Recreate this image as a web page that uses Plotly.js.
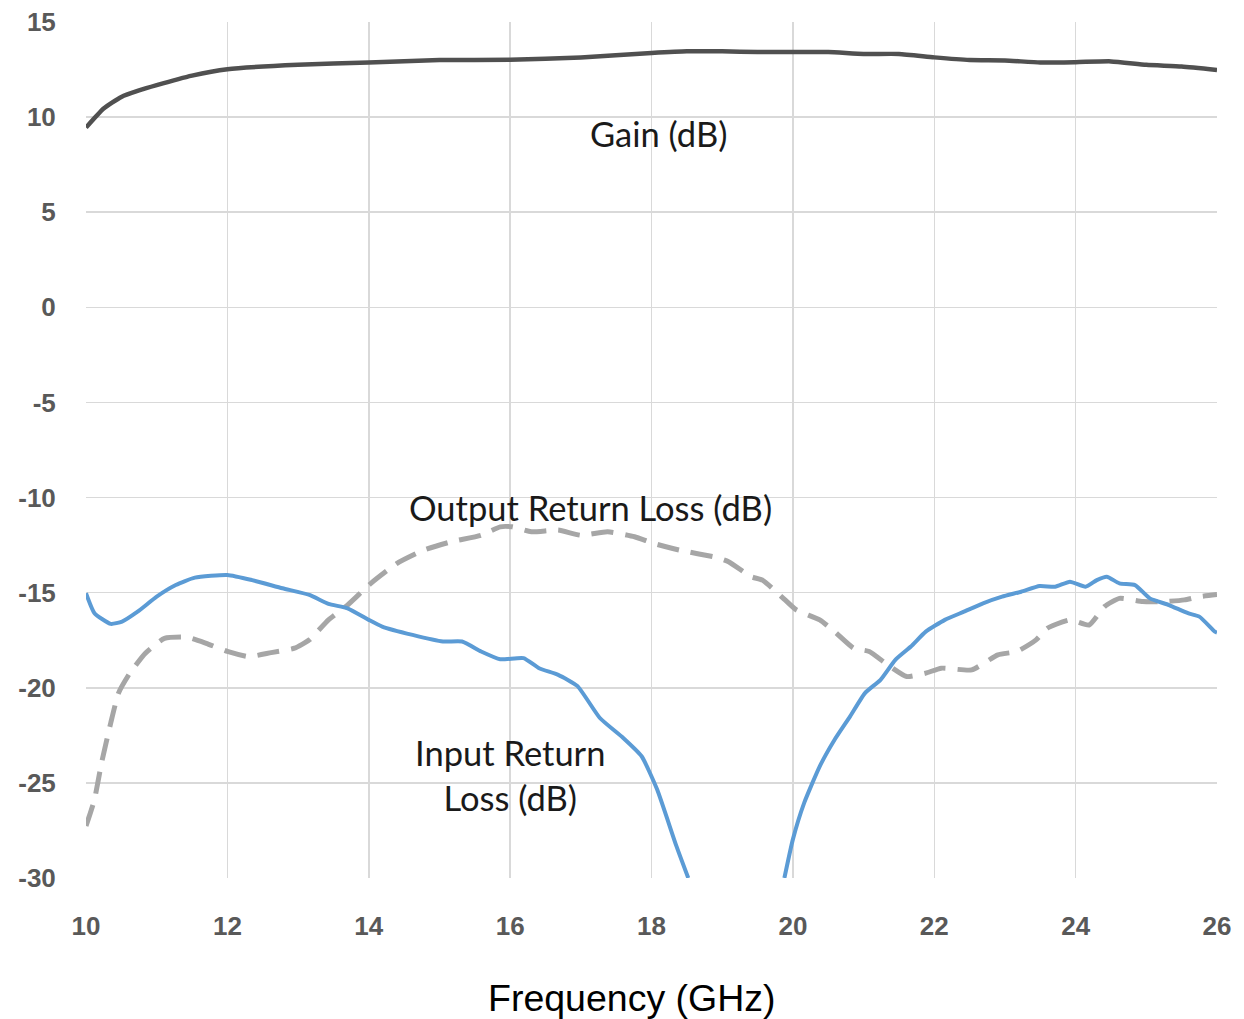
<!DOCTYPE html>
<html>
<head>
<meta charset="utf-8">
<script src="https://cdn.plot.ly/plotly-3.0.1.min.js"></script>
<style>html,body{margin:0;padding:0;background:#fff;}#chart{width:1244px;height:1019px;}</style>
</head>
<body>
<div id="chart"></div>
<script>
// Frequency (GHz) and Gain (dB)
const gainFreq = [10, 10.25, 10.5, 10.75, 11, 11.5, 12, 13, 14, 15, 16, 17, 18, 18.5, 19, 19.5, 20, 20.5, 21, 21.5, 22, 22.5, 23, 23.5, 24, 24.5, 25, 25.5, 26];
const gain = [9.45, 10.45, 11.06, 11.4, 11.68, 12.18, 12.52, 12.75, 12.87, 13.0, 13.01, 13.14, 13.37, 13.46, 13.46, 13.42, 13.42, 13.42, 13.32, 13.32, 13.14, 13.0, 12.98, 12.87, 12.89, 12.93, 12.75, 12.66, 12.48];

// Input Return Loss (dB)
const irlFreq = [10.0, 10.12, 10.35, 10.51, 10.73, 11.0, 11.27, 11.54, 12.0, 12.35, 12.78, 13.16, 13.43, 13.7, 14.0, 14.19, 14.62, 15.05, 15.32, 15.59, 15.86, 16.19, 16.41, 16.68, 16.95, 17.27, 17.6, 17.86, 18.08, 18.35, 18.52, 19.2, 19.88, 20.0, 20.16, 20.38, 20.59, 20.81, 21.02, 21.24, 21.45, 21.67, 21.88, 22.15, 22.42, 22.69, 22.96, 23.23, 23.49, 23.71, 23.92, 24.14, 24.3, 24.44, 24.62, 24.84, 25.05, 25.32, 25.59, 25.75, 25.97, 26.0];
const irl = [-15.03, -16.08, -16.64, -16.52, -16.0, -15.21, -14.6, -14.21, -14.07, -14.34, -14.77, -15.12, -15.59, -15.82, -16.43, -16.78, -17.22, -17.57, -17.57, -18.09, -18.5, -18.44, -18.97, -19.32, -19.9, -21.59, -22.64, -23.6, -25.35, -28.3, -30, null, -30, -27.97, -26.05, -24.13, -22.73, -21.5, -20.28, -19.58, -18.53, -17.83, -17.05, -16.43, -16.0, -15.56, -15.21, -14.95, -14.65, -14.69, -14.42, -14.69, -14.34, -14.16, -14.51, -14.6, -15.3, -15.65, -16.08, -16.26, -17.05, -17.1];

// Output Return Loss (dB)
const orlFreq = [10.0, 10.12, 10.22, 10.35, 10.46, 10.62, 10.84, 11.11, 11.43, 11.7, 12.0, 12.3, 12.62, 12.95, 13.16, 13.43, 13.7, 14.03, 14.4, 14.78, 15.16, 15.59, 15.86, 16.03, 16.3, 16.68, 17.0, 17.38, 17.76, 18.03, 18.39, 18.92, 19.09, 19.41, 19.57, 19.89, 20.05, 20.38, 20.59, 20.86, 21.08, 21.34, 21.61, 21.88, 22.1, 22.53, 22.9, 23.17, 23.44, 23.6, 23.92, 24.19, 24.41, 24.62, 24.95, 25.27, 25.54, 25.75, 26.0];
const orl = [-27.27, -25.87, -23.95, -21.85, -20.28, -19.23, -18.18, -17.4, -17.34, -17.66, -18.09, -18.36, -18.15, -17.92, -17.48, -16.43, -15.65, -14.51, -13.46, -12.76, -12.33, -11.98, -11.54, -11.54, -11.8, -11.71, -11.98, -11.8, -12.06, -12.41, -12.76, -13.15, -13.37, -14.16, -14.34, -15.38, -15.91, -16.43, -17.05, -17.92, -18.09, -18.79, -19.41, -19.23, -18.97, -19.06, -18.27, -18.09, -17.48, -16.87, -16.43, -16.7, -15.73, -15.3, -15.47, -15.47, -15.38, -15.21, -15.1];

const xTicks = [10, 12, 14, 16, 18, 20, 22, 24, 26];
const yTicks = [-30, -25, -20, -15, -10, -5, 0, 5, 10, 15];

const seriesLabels = ['Gain (dB)', 'Output Return Loss (dB)', 'Input Return<br>Loss (dB)'];
const xTitle = 'Frequency (GHz)';

const traces = [
  {x: orlFreq, y: orl, type: 'scatter', mode: 'lines', name: 'Output Return Loss (dB)',
   line: {color: '#a6a6a6', width: 5, dash: '22px,12px', shape: 'spline', smoothing: 0.5}},
  {x: irlFreq, y: irl, type: 'scatter', mode: 'lines', name: 'Input Return Loss (dB)',
   line: {color: '#5b9bd5', width: 4, shape: 'spline', smoothing: 0.5}, connectgaps: false},
  {x: gainFreq, y: gain, type: 'scatter', mode: 'lines', name: 'Gain (dB)',
   line: {color: '#505050', width: 4.5, shape: 'spline', smoothing: 0.5}}
];

const annFont = {family: 'Lato, Open Sans, sans-serif', size: 34.5, color: '#1a1a1a'};
const tickFont = {family: 'Liberation Sans Narrow, Liberation Sans, Arial Narrow, sans-serif', size: 26, color: '#595959', weight: 'bold', stretch: 'condensed'};

const layout = {
  width: 1244, height: 1019,
  paper_bgcolor: '#ffffff', plot_bgcolor: '#ffffff',
  margin: {l: 86, r: 27, t: 22, b: 141},
  showlegend: false,
  xaxis: {
    range: [10, 26], tickvals: xTicks, ticktext: xTicks.map(String),
    showgrid: true, gridcolor: '#d9d9d9', gridwidth: 1.5,
    zeroline: false, showline: false,
    ticks: 'outside', ticklen: 25, tickcolor: 'rgba(0,0,0,0)',
    tickfont: tickFont
  },
  yaxis: {
    range: [-30, 15], tickvals: yTicks, ticktext: yTicks.map(String),
    showgrid: true, gridcolor: '#d9d9d9', gridwidth: 1.5,
    zeroline: false, showline: false,
    ticks: 'outside', ticklen: 24, tickcolor: 'rgba(0,0,0,0)',
    tickfont: tickFont
  },
  annotations: [
    {x: 18.1, y: 9.16, xref: 'x', yref: 'y', text: seriesLabels[0], showarrow: false, font: annFont},
    {x: 17.14, y: -10.5, xref: 'x', yref: 'y', text: seriesLabels[1], showarrow: false, font: annFont},
    {x: 16.0, y: -24.6, xref: 'x', yref: 'y', text: seriesLabels[2], showarrow: false, font: annFont, align: 'center'},
    {x: 0, y: 0, xref: 'paper', yref: 'paper', xanchor: 'center', yanchor: 'middle', text: xTitle, showarrow: false,
     font: {family: 'Liberation Sans, Arial, sans-serif', size: 37.5, color: '#000'}}
  ]
};
// convert pixel placement of the axis title into paper fractions
layout.annotations[3].x = (632 - 86) / (1244 - 86 - 27);
layout.annotations[3].y = -(998 - (1019 - 141)) / (1019 - 22 - 141);

Plotly.newPlot('chart', traces, layout, {displayModeBar: false, staticPlot: true});
</script>
</body>
</html>
